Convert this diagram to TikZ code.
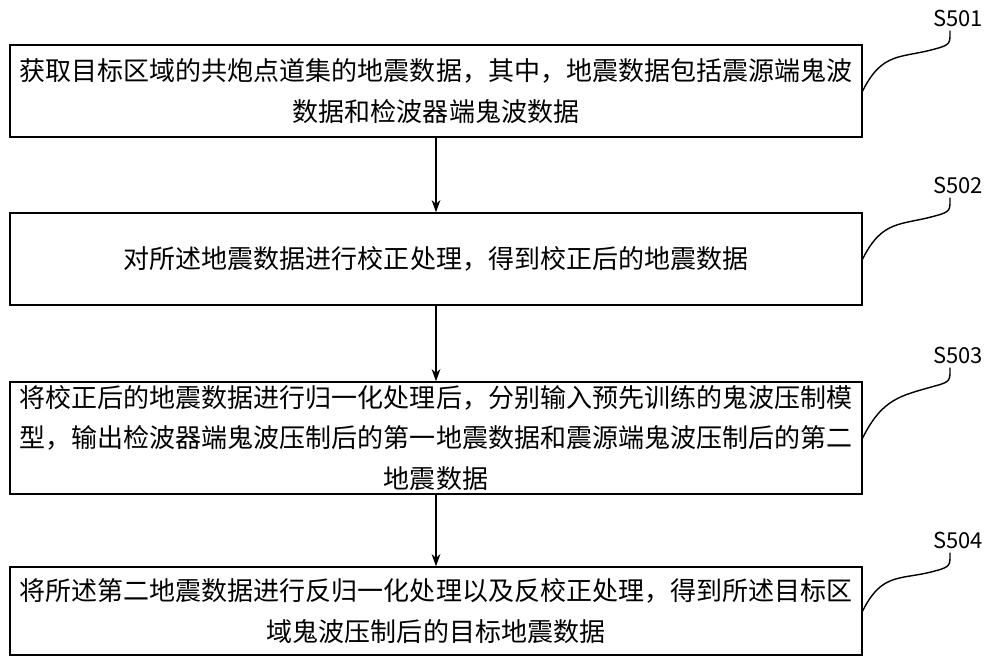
\documentclass[tikz,border=0pt]{standalone}
\usepackage{fontspec}
\setmainfont{Noto Sans CJK SC}
\usetikzlibrary{arrows.meta,calc}
\tikzset{
  stepbox/.style={draw,thick,minimum width=17.04cm,align=center,
    font=\fontsize{14.8}{23}\selectfont,inner sep=0pt},
  steplabel/.style={font=\fontsize{12.5}{15}\selectfont,inner sep=0pt},
  flow/.style={-{Stealth[length=7pt,width=5pt]},thick}
}
\begin{document}
\begin{tikzpicture}[x=0.02cm,y=-0.02cm]
  \useasboundingbox (0,0) rectangle (1000,668);
  \node[stepbox,minimum height=1.84cm] (b1) at (436,91) {获取目标区域的共炮点道集的地震数据，其中，地震数据包括震源端鬼波\\数据和检波器端鬼波数据};
  \node[stepbox,minimum height=1.84cm] (b2) at (436,259) {对所述地震数据进行校正处理，得到校正后的地震数据};
  \node[stepbox,minimum height=2.24cm] (b3) at (436,438) {将校正后的地震数据进行归一化处理后，分别输入预先训练的鬼波压制模\\型，输出检波器端鬼波压制后的第一地震数据和震源端鬼波压制后的第二\\地震数据};
  \node[stepbox,minimum height=1.76cm] (b4) at (436,611) {将所述第二地震数据进行反归一化处理以及反校正处理，得到所述目标区\\域鬼波压制后的目标地震数据};
  \draw[flow] (b1) -- (b2);
  \draw[flow] (b2) -- (b3);
  \draw[flow] (b3) -- (b4);
  % step labels with leader curves
  \node[steplabel] (s1) at (958,18) {S501};
  \node[steplabel] (s2) at (958,185) {S502};
  \node[steplabel] (s3) at (958,355) {S503};
  \node[steplabel] (s4) at (958,540) {S504};
  \foreach \b/\s in {b1/s1,b2/s2,b3/s3,b4/s4}{
    \draw[thick] (\b.east) .. controls +(20,-40) and +(-35,10) .. ($(\s.south)+(-22,22)$)
      .. controls +(15,-4) and +(0,12) .. ($(\s.south)+(-8,4)$);
  }
\end{tikzpicture}
\end{document}
